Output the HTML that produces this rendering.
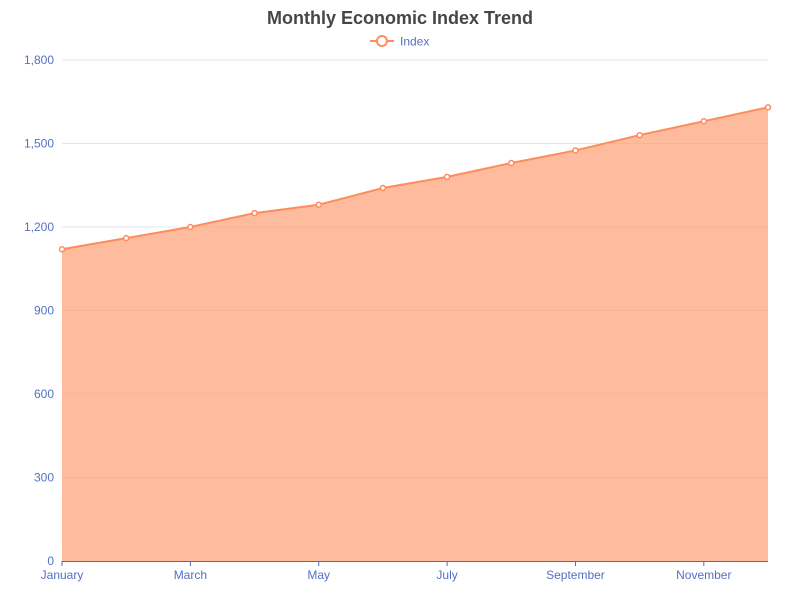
<!DOCTYPE html>
<html><head><meta charset="utf-8"><style>
body{margin:0;background:#fff;font-family:"Liberation Sans",sans-serif}
svg text{font-family:"Liberation Sans",sans-serif}
</style></head><body>
<svg id="c" width="800" height="600">
<defs><clipPath id="areaClip"><polygon id="clipPoly" points=""/></clipPath></defs>
<text x="400" y="24" text-anchor="middle" font-size="18" font-weight="bold" fill="#464646">Monthly Economic Index Trend</text>
<g>
<line x1="370" y1="41" x2="394" y2="41" stroke="#ff8c5a" stroke-width="2"/>
<circle cx="382" cy="41" r="5" fill="#fff" stroke="#ff8c5a" stroke-width="2"/>
<text x="400" y="45.5" font-size="12" fill="#5470c6">Index</text>
</g>
<g id="grid"></g><g id="series"></g><g id="grid2" clip-path="url(#areaClip)"></g><g id="axes"></g>
</svg>
<script>
const categories=["January","February","March","April","May","June","July","August","September","October","November","December"];
const values=[1120,1160,1200,1250,1280,1340,1380,1430,1475,1530,1580,1630];
const yTicks=[0,300,600,900,1200,1500,1800];
const xLabelIdx=[0,2,4,6,8,10];
const L=62,R=768,T=60,B=561,YMAX=1800;
const NS="http://www.w3.org/2000/svg";
const x=i=>L+i*(R-L)/(categories.length-1);
const y=v=>B-v/YMAX*(B-T);
function mk(t,a,p){const e=document.createElementNS(NS,t);for(const k in a)e.setAttribute(k,a[k]);p.appendChild(e);return e;}
const grid=document.getElementById('grid'),grid2=document.getElementById('grid2'),ser=document.getElementById('series'),ax=document.getElementById('axes');
const pts=values.map((v,i)=>x(i)+','+y(v)).join(' ');
const areaPts=x(0)+','+B+' '+pts+' '+x(values.length-1)+','+B;
document.getElementById('clipPoly').setAttribute('points',areaPts);
yTicks.forEach(v=>{
 const g=mk('line',{x1:L,x2:R,y1:y(v),y2:y(v),stroke:'#e0e6f1'},grid);
 
 
 if(v>0){
 const g2=mk('line',{x1:L,x2:R,y1:y(v),y2:y(v),stroke:'#e0a080','stroke-opacity':0.25},grid2);
 
 
 }
 const t=mk('text',{x:L-8,y:y(v)+4,'text-anchor':'end','font-size':12,fill:'#5470c6'},ax);
 t.textContent=v.toLocaleString('en-US');
 
 
});
const area=mk('polygon',{points:areaPts,fill:'#ffbb9e'},ser);


const line=mk('polyline',{points:pts,fill:'none',stroke:'#ff8c5a','stroke-width':2},ser);


values.forEach((v,i)=>{
 const c=mk('circle',{cx:x(i),cy:y(v),r:2.5,fill:'#fff',stroke:'#ff8c5a','stroke-width':1.5},ser);
 
 
});
const axl=mk('line',{x1:L,x2:R,y1:B+0.5,y2:B+0.5,stroke:'#4a6ad0'},ax);


xLabelIdx.forEach(i=>{
 const tk=mk('line',{x1:x(i),x2:x(i),y1:B,y2:B+5,stroke:'#4a6ad0'},ax);
 
 
 const t=mk('text',{x:x(i),y:B+18,'text-anchor':'middle','font-size':12,fill:'#5470c6'},ax);
 t.textContent=categories[i];
 
 
});
</script>
</body></html>
